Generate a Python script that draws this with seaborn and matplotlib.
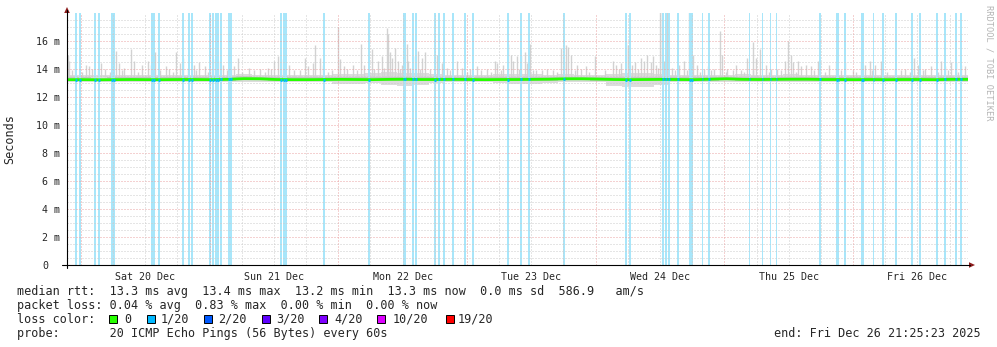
import numpy as np
import pandas as pd
import matplotlib
matplotlib.use("Agg")
import matplotlib.pyplot as plt
from matplotlib.patches import Rectangle, Polygon
from matplotlib.lines import Line2D
from matplotlib.transforms import ScaledTranslation
import seaborn as sns

# ---------------------------------------------------------------- data
START = pd.Timestamp("2025-12-19 21:25:23")
END = pd.Timestamp("2025-12-26 21:25:23")

# median rtt, sampled every 3 hours from START (ms)
median_hours = list(range(0, 169, 3))
median_ms = [13.24, 13.24, 13.23, 13.24, 13.25, 13.24, 13.24, 13.25, 13.25, 13.24,
             13.26, 13.31, 13.30, 13.25, 13.24, 13.24, 13.25, 13.26, 13.25, 13.24,
             13.26, 13.27, 13.25, 13.25, 13.26, 13.25, 13.24, 13.25, 13.25, 13.26,
             13.27, 13.30, 13.30, 13.28, 13.25, 13.24, 13.25, 13.26, 13.25, 13.24,
             13.27, 13.30, 13.26, 13.25, 13.26, 13.27, 13.27, 13.25, 13.25, 13.24,
             13.25, 13.24, 13.25, 13.25, 13.24, 13.26, 13.26]

# dense part of the smoke: lower and upper envelope (ms), same 3 h sampling
smoke_low_ms = [13.06, 13.06, 13.06, 13.06, 13.05, 13.06, 13.06, 13.04, 13.06, 13.05,
                13.06, 13.06, 13.06, 13.06, 13.06, 13.06, 13.05, 12.92, 12.94, 13.00,
                12.84, 12.80, 12.84, 13.00, 13.05, 13.06, 13.06, 12.98, 12.92, 12.94,
                13.00, 13.06, 13.06, 13.05, 12.82, 12.72, 12.74, 12.88, 13.04, 13.06,
                13.06, 13.05, 13.06, 13.06, 13.06, 13.05, 13.06, 13.06, 13.06, 13.06,
                13.06, 13.06, 13.06, 13.06, 13.06, 13.06, 13.06]
smoke_high_ms = [13.58, 13.56, 13.55, 13.58, 13.60, 13.58, 13.56, 13.58, 13.55, 13.58,
                 13.60, 13.62, 13.58, 13.60, 13.55, 13.58, 13.56, 13.64, 13.66, 13.72,
                 13.76, 13.74, 13.72, 13.64, 13.58, 13.55, 13.56, 13.62, 13.66, 13.64,
                 13.58, 13.62, 13.58, 13.56, 13.64, 13.68, 13.70, 13.64, 13.58, 13.60,
                 13.56, 13.58, 13.62, 13.60, 13.56, 13.62, 13.60, 13.56, 13.58, 13.56,
                 13.58, 13.56, 13.55, 13.56, 13.58, 13.60, 13.58]

# individual slow pings (hours after START, ms)
spike_hours = [0.0, 0.2, 0.4, 1.5, 3.5, 4.1, 4.7, 6.3, 7.1, 9.1, 9.7, 10.6, 11.9, 12.5,
               14.0, 15.1, 15.7, 16.4, 18.5, 19.0, 20.3, 21.1, 21.6, 22.6, 23.7, 24.6,
               25.7, 26.7, 27.6, 28.5, 29.1, 30.6, 31.1, 31.9, 33.9, 36.0, 37.5, 38.0,
               38.6, 39.3, 40.3, 41.4, 44.4, 44.9, 45.9, 46.2, 47.2, 47.7, 49.4, 50.5,
               50.9, 51.6, 53.3, 54.8, 55.4, 56.9, 58.0, 58.7, 59.7, 59.9, 60.2, 60.6,
               61.2, 61.7, 62.5, 63.4, 63.6, 64.5, 65.4, 66.2, 66.8, 69.0, 69.2, 69.9,
               70.9, 72.7, 73.7, 75.1, 76.4, 78.3, 79.8, 80.2, 81.3, 82.2, 82.8, 83.2,
               83.9, 84.7, 85.4, 85.8, 86.3, 87.4, 89.5, 90.6, 92.1, 92.7, 93.0, 93.4,
               94.0, 95.1, 95.8, 96.8, 98.5, 101.8, 102.4, 103.3, 104.2, 104.6, 105.3,
               105.9, 107.0, 107.6, 108.1, 108.9, 109.3, 109.8, 110.6, 110.9, 111.3,
               111.9, 112.8, 114.1, 115.0, 116.0, 116.4, 116.7, 117.5, 118.8, 119.5,
               120.6, 121.8, 122.1, 123.1, 124.7, 125.7, 126.8, 127.9, 128.5, 129.2,
               130.3, 131.3, 132.4, 133.9, 134.4, 135.0, 135.4, 136.3, 136.9, 137.8,
               138.7, 140.0, 140.4, 142.1, 143.4, 145.1, 146.6, 148.1, 148.8, 149.7,
               150.7, 151.8, 154.4, 156.3, 157.9, 158.7, 160.0, 161.1, 163.0, 163.7,
               164.8, 165.8, 166.7, 167.4]
spike_ms = [15.0, 15.0, 14.6, 14.5, 14.3, 14.2, 14.0, 14.4, 14.0, 15.3, 14.4, 14.1, 15.4, 14.6,
            14.3, 14.6, 14.3, 15.2, 14.2, 14.0, 15.2, 14.4, 14.8, 14.1, 14.3, 14.5,
            14.2, 13.9, 14.7, 14.6, 14.3, 14.0, 14.2, 14.8, 14.1, 14.0, 14.1, 14.0,
            14.6, 14.9, 14.7, 14.3, 14.8, 14.2, 14.4, 15.7, 14.8, 14.3, 13.9, 17.0,
            14.7, 14.2, 14.3, 15.8, 14.3, 15.4, 14.6, 14.9, 16.9, 16.5, 15.2, 14.8,
            15.5, 14.6, 14.3, 15.8, 14.6, 14.9, 15.3, 14.8, 15.2, 15.0, 14.7, 14.4,
            14.1, 14.6, 14.1, 14.0, 14.2, 14.0, 14.6, 14.4, 14.3, 15.8, 15.0, 14.6,
            14.9, 15.0, 15.2, 14.4, 15.8, 13.9, 14.0, 13.9, 15.5, 14.5, 15.7, 15.6,
            15.0, 14.3, 14.0, 14.2, 14.9, 14.6, 14.3, 14.4, 16.0, 15.7, 14.3,
            14.5, 14.8, 14.6, 15.0, 14.5, 14.9, 14.3, 19.0, 19.0, 14.6,
            19.0, 14.1, 14.3, 14.6, 19.0, 19.0, 15.0, 14.3, 14.0, 14.2,
            14.0, 16.7, 15.0, 14.0, 14.3, 13.9, 14.8, 15.9, 14.8, 15.4,
            14.3, 14.0, 14.0, 14.6, 16.0, 15.0, 14.5, 14.6, 14.2, 14.3,
            14.2, 14.6, 14.5, 14.3, 14.6, 14.5, 13.9, 14.5, 14.3, 14.6,
            14.3, 14.6, 14.0, 14.0, 14.8, 14.3, 14.0, 14.2, 14.6, 14.2,
            14.5, 14.5, 14.3, 14.2]

# smaller bumps in the smoke (hours after START, ms)
bump_hours = [0.9, 2.8, 5.7, 8.0, 10.2, 13.2, 17.4, 19.8, 24.1, 26.2, 29.8, 32.6,
              34.8, 37.0, 42.3, 43.5, 48.6, 52.2, 54.1, 57.3, 59.2, 62.0, 64.0, 65.9,
              67.6, 71.5, 74.5, 77.2, 79.1, 81.0, 84.2, 86.9, 88.5, 91.3, 94.7, 97.4,
              100.3, 102.9, 106.4, 110.2, 113.3, 115.6, 118.1, 120.0, 122.8, 124.1,
              126.2, 128.0, 130.9, 133.1, 136.0, 139.3, 141.4, 144.3, 147.2, 150.1,
              152.9, 155.5, 157.2, 159.6, 162.4, 164.3, 166.1]
bump_ms = [13.9, 13.8, 13.9, 13.8, 13.9, 13.8, 13.9, 13.8, 13.9, 13.8, 13.9, 13.8,
           13.9, 13.8, 13.9, 13.9, 13.8, 14.0, 13.9, 14.0, 14.1, 14.0, 14.1, 14.0,
           14.0, 13.9, 13.8, 13.9, 13.8, 13.9, 14.0, 13.9, 13.9, 13.8, 13.9, 13.8,
           13.9, 14.0, 14.0, 14.1, 13.9, 13.9, 13.8, 13.9, 13.8, 13.9, 13.8, 13.9,
           13.8, 13.9, 13.8, 13.9, 13.8, 13.9, 13.8, 13.9, 13.8, 13.9, 13.8, 13.9,
           13.8, 13.9, 13.8]

# intervals with 1/20 packet loss (hours after START)
loss_hours = [1.68, 2.37, 5.28, 5.91, 8.33, 8.82, 15.85, 16.17, 17.15, 21.69, 22.80,
              23.31, 26.72, 27.22, 27.78, 28.21, 28.71, 30.26, 30.64, 39.90, 40.52,
              40.84, 47.98, 56.37, 62.74, 63.02, 64.46, 65.07, 68.62, 69.36, 70.30,
              72.03, 74.16, 75.65, 82.29, 84.71, 86.09, 92.67, 104.18, 104.98, 111.13,
              111.64, 112.25, 113.93, 116.17, 116.54, 118.50, 119.77, 127.26, 129.68,
              131.18, 132.29, 140.46, 143.52, 143.85, 145.03, 148.20, 148.46, 150.38,
              152.10, 154.61, 157.59, 159.05, 162.17, 163.67, 165.71, 166.64]

day_labels = ["Sat 20 Dec", "Sun 21 Dec", "Mon 22 Dec", "Tue 23 Dec",
              "Wed 24 Dec", "Thu 25 Dec", "Fri 26 Dec"]
y_ticks_ms = [0, 2, 4, 6, 8, 10, 12, 14, 16]

loss_labels = ["0", "1/20", "2/20", "3/20", "4/20", "10/20", "19/20"]
loss_colors = ["#26ff00", "#00b8ff", "#0059ff", "#5e00ff", "#7e00ff", "#dd00ff", "#ff0000"]

legend_lines = [
    "median rtt:  13.3 ms avg  13.4 ms max  13.2 ms min  13.3 ms now  0.0 ms sd  586.9   am/s",
    "packet loss: 0.04 % avg  0.83 % max  0.00 % min  0.00 % now",
    "loss color:",
    "probe:       20 ICMP Echo Pings (56 Bytes) every 60s",
]
end_text = "end: Fri Dec 26 21:25:23 2025"


def at(hours):
    return START + pd.to_timedelta(np.asarray(hours, dtype=float), unit="h")


# ---------------------------------------------------------------- style
sns.set_style("white")
plt.rcParams["font.family"] = ["DejaVu Sans Mono"]
MONO = "DejaVu Sans Mono"

W, H = 997, 347
fig = plt.figure(figsize=(W / 100, H / 100), dpi=100)
fig.patch.set_facecolor("white")


def fx(px):
    return px / W


def fy(py):
    return 1 - py / H


ax = fig.add_axes([fx(67), fy(265), 901 / W, 252 / H])
ax.set_facecolor("white")
for s in ax.spines.values():
    s.set_visible(False)

ax.set_xlim(START, END)
ax.set_ylim(0, 18)

# ---------------------------------------------------------------- smoke
t3 = at(median_hours)
ax.fill_between(t3, smoke_low_ms, smoke_high_ms, step="mid",
                color="#dcdcdc", lw=0, zorder=1.0)
ax.vlines(at(bump_hours), 13.4, bump_ms, colors="#d2d2d2", lw=1.0, zorder=1.05)
ax.vlines(at(spike_hours), 13.4, spike_ms, colors="#d2d2d2", lw=1.0, zorder=1.1)
med = np.asarray(median_ms)
ax.fill_between(t3, med - 0.12, med + 0.16, step="mid",
                color="#c6c6c6", lw=0, zorder=1.2)

# loss background columns
half = pd.Timedelta(minutes=10)
for t in at(loss_hours):
    ax.axvspan(t - half, t + half, color="#a8e6fa", lw=0, zorder=1.5)

# ---------------------------------------------------------------- grid
dot = (0, (1, 2))
for v in np.arange(0.5, 18, 0.5):
    major = abs(v / 2 - round(v / 2)) < 1e-9
    ax.axhline(v, color="#eba4a4" if major else "#cccccc", lw=0.72,
               ls=dot, zorder=2.5)
grid_times = pd.date_range("2025-12-20 00:00", "2025-12-26 18:00", freq="6h")
for t in grid_times:
    ax.axvline(t, color="#eba4a4" if t.hour == 0 else "#cccccc", lw=0.72,
               ls=dot, zorder=2.5)

# ---------------------------------------------------------------- median
df = pd.DataFrame({"time": t3, "median": median_ms})
sns.lineplot(data=df, x="time", y="median", color=loss_colors[0],
             linewidth=2.0, ax=ax, legend=False, zorder=3)
loss_med = np.interp(loss_hours, median_hours, median_ms)
lt = at(loss_hours)
ax.hlines(loss_med, lt - half, lt + half, colors=loss_colors[1], lw=2.0, zorder=3.1)
ax.set_xlabel("")
ax.set_ylabel("")

# ---------------------------------------------------------------- ticks
noons = pd.date_range("2025-12-20 12:00", periods=7, freq="D")
ax.set_xticks(noons)
ax.set_xticklabels(day_labels, fontsize=7.2, family=MONO)
ax.tick_params(axis="x", which="major", length=0, pad=5)
ax.set_xticks(grid_times, minor=True)
ax.tick_params(axis="x", which="minor", length=2, color="#999999", direction="out")

ax.set_yticks(y_ticks_ms)
ax.set_yticklabels([f"{v} m" if v else "0" for v in y_ticks_ms],
                   fontsize=7.2, family=MONO)
ax.set_yticks(np.arange(0.5, 18, 0.5), minor=True)
ax.tick_params(axis="y", which="major", length=3, width=0.8, color="#333333",
               pad=2.0, direction="out")
ax.tick_params(axis="y", which="minor", length=1.5, width=0.7, color="#777777",
               direction="out")
zero_label = ax.get_yticklabels()[0]
zero_label.set_transform(zero_label.get_transform()
                         + ScaledTranslation(-0.12, 0, fig.dpi_scale_trans))

# ---------------------------------------------------------------- axes lines & arrows
fig.add_artist(Line2D([fx(67), fx(67)], [fy(268), fy(10)], color="black", lw=0.8))
fig.add_artist(Line2D([fx(62), fx(970)], [fy(265), fy(265)], color="black", lw=0.8))
arrow_c = "#8c1c1c"
fig.add_artist(Polygon([[fx(67), fy(7)], [fx(64.2), fy(13)], [fx(69.8), fy(13)]],
                       closed=True, color=arrow_c, lw=0))
fig.add_artist(Polygon([[fx(975), fy(265)], [fx(969), fy(262.2)], [fx(969), fy(267.8)]],
                       closed=True, color=arrow_c, lw=0))

# ---------------------------------------------------------------- labels
fig.text(fx(10), fy(139), "Seconds", rotation=90, ha="center", va="center",
         fontsize=8.45, family=MONO)
fig.text(fx(988.5), fy(5), "RRDTOOL / TOBI OETIKER", rotation=270,
         ha="center", va="top", fontsize=6.2, family=MONO, color="#b4b4b4")

baselines = [295, 309, 323, 337]
for txt, b in zip(legend_lines, baselines):
    fig.text(fx(16.5), fy(b), txt, ha="left", va="baseline",
             fontsize=8.45, family=MONO)
fig.text(fx(981), fy(337), end_text, ha="right", va="baseline",
         fontsize=8.45, family=MONO)

box_x = [108.5, 146.5, 203.5, 261.5, 319, 377, 446]
lab_x = [124, 160.7, 218.3, 276, 334.3, 392.3, 457.3]
for bx, lx, lab, col in zip(box_x, lab_x, loss_labels, loss_colors):
    fig.add_artist(Rectangle((fx(bx), fy(323)), 8 / W, 8 / H, facecolor=col,
                             edgecolor="black", lw=0.7))
    fig.text(fx(lx), fy(323), lab, ha="left", va="baseline",
             fontsize=8.45, family=MONO)

fig.savefig("out.png", dpi=100, facecolor="white")
